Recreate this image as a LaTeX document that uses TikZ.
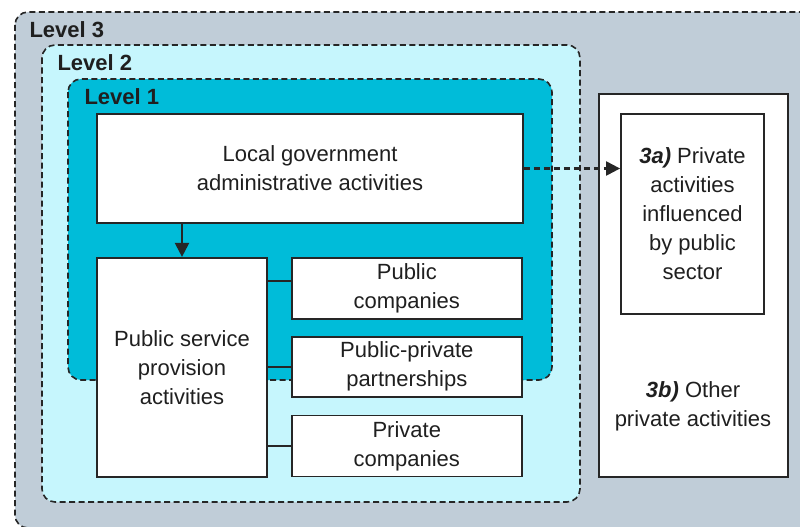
\documentclass[tikz,border=0pt]{standalone}
\usepackage{fontspec}
\setmainfont{Liberation Sans}
\usetikzlibrary{positioning,arrows.meta,calc}

\definecolor{lvlthree}{HTML}{C0CDD8}
\definecolor{lvltwo}{HTML}{C6F6FD}
\definecolor{lvlone}{HTML}{00BCD9}
\definecolor{edge}{HTML}{262626}

\begin{document}
\begin{tikzpicture}[x=1pt, y=-1pt, node distance=16pt and 23pt,
  font=\fontsize{22}{29}\selectfont, text=black!88,
  box/.style={draw=edge, line width=1.8pt, fill=white, align=center, inner sep=0pt},
  lvl/.style={draw=edge, line width=1.6pt, dash pattern=on 6pt off 3.5pt, rounded corners=13pt},
  lvllabel/.style={anchor=west, font=\fontsize{22}{25}\selectfont\bfseries},
  arr/.style={-{Triangle[length=14pt, width=14pt]}, line width=2.2pt, draw=edge},
  link/.style={line width=1.8pt, draw=edge}]
\useasboundingbox (0,0) rectangle (800,527);
\clip (0,0) rectangle (800,527);
% nested levels
\draw[lvl, fill=lvlthree] (15,12) rectangle (840,528);
\node[lvllabel] (l3) at (26,30) {Level 3};
\draw[lvl, fill=lvltwo] (42,45) rectangle (580,502);
\node[lvllabel] (l2) at (54,63) {Level 2};
\draw[lvl, fill=lvlone] (68,79) rectangle (552,380);
\node[lvllabel] (l1) at (81,97) {Level 1};

% local government boxes
\node[box, minimum width=426pt, minimum height=109pt] (gov) at (310,168.5) {Local government\\ administrative activities};
\node[box, minimum width=170pt, minimum height=219pt, below=33pt of gov.south west, anchor=north west] (svc) {Public service\\ provision\\ activities};
\node[box, minimum width=230pt, minimum height=61pt, right=of svc.north east, anchor=north west] (cpub) {Public\\ companies};
\node[box, minimum width=230pt, minimum height=60pt, below=of cpub] (cppp) {Public-private\\ partnerships};
\node[box, minimum width=230pt, minimum height=61pt, below=17pt of cppp] (cpriv) {Private\\ companies};

% private sector
\node[box, minimum width=189pt, minimum height=383pt] (priv) at (693.5,285.5) {};
\node[box, minimum width=143pt, minimum height=200pt, below right=20pt and 22pt of priv.north west, anchor=north west] (infl) {\textbf{\textit{3a)}} Private\\ activities\\ influenced\\ by public\\ sector};
\node[align=center] (other) at (693,406) {\textbf{\textit{3b)}} Other\\ private activities};

\draw[arr] (gov.south -| svc.north) -- (svc.north);
\draw[arr, dash pattern=on 6pt off 4pt] (gov.east) -- (gov.east -| infl.west);
\draw[link] ([yshift=7pt]cpub.west) -- ([yshift=7pt]cpub.west -| svc.east);
\draw[link] (cppp.west) -- (cppp.west -| svc.east);
\draw[link] (cpriv.west) -- (cpriv.west -| svc.east);
\end{tikzpicture}
\end{document}
